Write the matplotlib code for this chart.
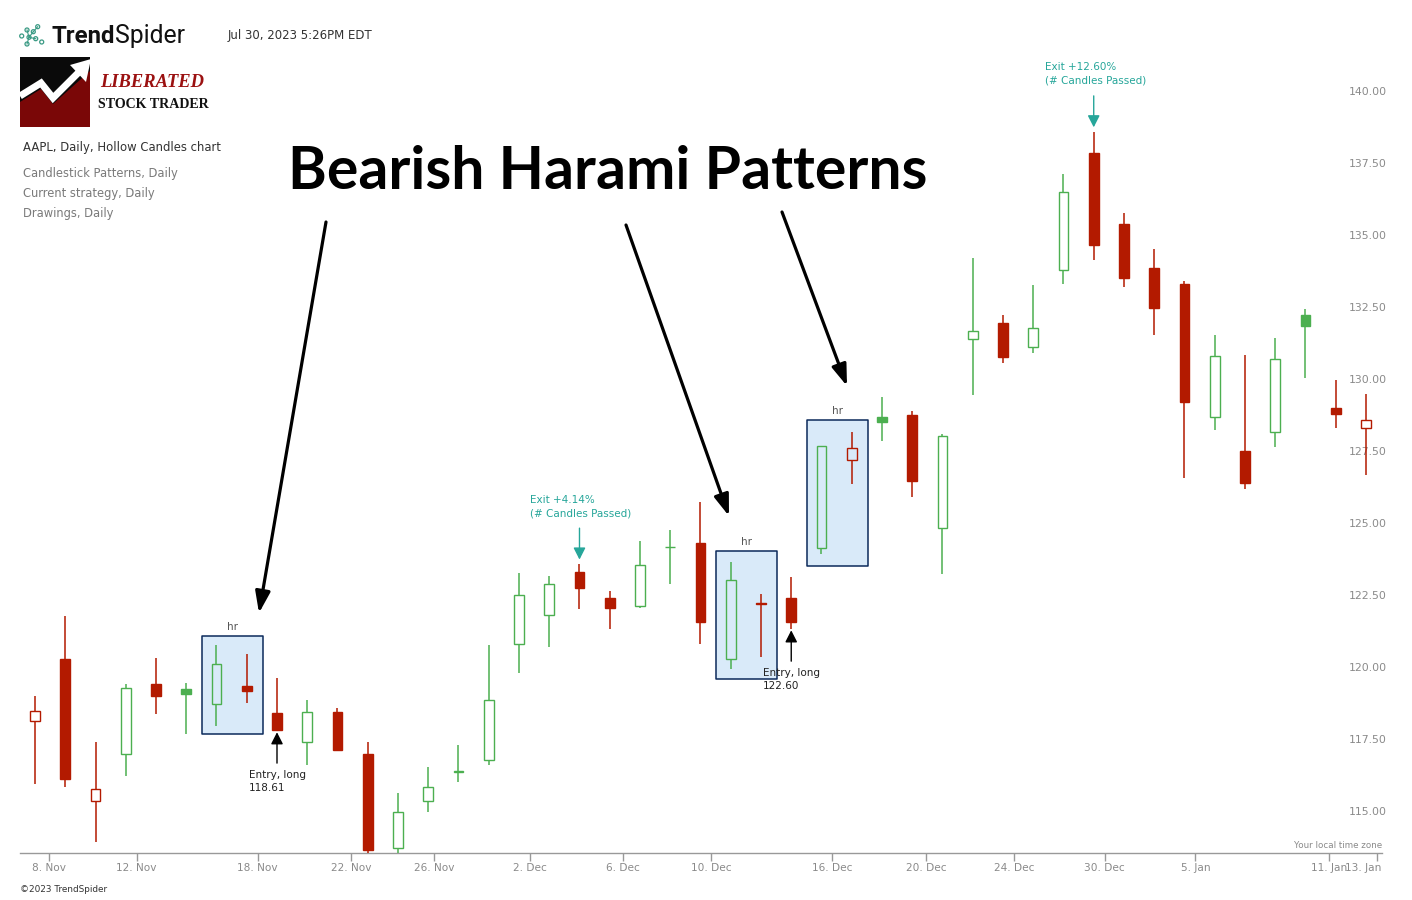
import numpy as np
import matplotlib
matplotlib.use("Agg")
import matplotlib.pyplot as plt
from matplotlib.patches import Rectangle, Polygon, Circle
from matplotlib.transforms import ScaledTranslation

W, H = 1412, 900

# AAPL daily candles, 6 Nov 2020 – 12 Jan 2021
opens = [118.32, 120.50, 115.55, 117.19, 119.62, 119.44, 118.92, 119.55, 118.61, 117.59,
         118.64, 117.18, 113.91, 115.55, 116.57, 116.97, 121.01, 122.02, 123.52, 122.60,
         122.31, 124.37, 124.53, 120.50, 122.43, 122.60, 124.34, 127.41, 128.90, 128.96,
         125.02, 131.61, 132.16, 131.32, 133.99, 138.05, 135.58, 134.08, 133.52, 128.89,
         127.72, 128.36, 132.43, 129.19, 128.50]
highs = [119.20, 121.99, 117.59, 119.63, 120.53, 119.67, 120.99, 120.67, 119.82, 119.06,
         118.77, 117.62, 115.85, 116.75, 117.49, 120.97, 123.47, 123.37, 123.78, 122.86,
         124.57, 124.98, 125.95, 123.87, 122.76, 123.35, 127.90, 128.37, 129.58, 129.10,
         128.31, 134.41, 132.43, 133.46, 137.34, 138.79, 135.99, 134.74, 133.61, 131.74,
         131.05, 131.63, 132.63, 130.17, 129.69]
lows = [116.13, 116.05, 114.13, 116.44, 118.57, 117.87, 118.15, 118.96, 118.00, 116.81,
        117.29, 113.75, 112.59, 115.17, 116.22, 116.81, 120.01, 120.89, 122.21, 121.52,
        122.25, 123.09, 121.00, 120.15, 120.55, 121.54, 124.13, 126.56, 128.04, 126.12,
        123.45, 129.65, 130.78, 131.10, 133.51, 134.34, 133.40, 131.72, 126.76, 128.43,
        126.38, 127.86, 130.23, 128.50, 126.86]
closes = [118.69, 116.32, 115.97, 119.49, 119.21, 119.26, 120.30, 119.39, 118.03, 118.64,
          117.34, 113.85, 115.17, 116.03, 116.59, 119.05, 122.72, 123.08, 122.94, 122.25,
          123.75, 124.38, 121.78, 123.24, 122.41, 121.78, 127.88, 127.81, 128.70, 126.66,
          128.23, 131.88, 130.96, 131.97, 136.69, 134.87, 133.72, 132.69, 129.41, 131.01,
          126.60, 130.92, 132.05, 128.98, 128.80]
prev_close = 118.99  # close of the session before the first candle

# date ticks (position on the session axis, label)
tick_pos = [0.46, 3.36, 7.36, 10.45, 13.2, 16.36, 19.45, 22.36, 26.36, 29.45,
            32.36, 35.36, 38.36, 42.78, 44.36]
tick_labels = ["8. Nov", "12. Nov", "18. Nov", "22. Nov", "26. Nov", "2. Dec", "6. Dec",
               "10. Dec", "16. Dec", "20. Dec", "24. Dec", "30. Dec", "5. Jan",
               "11. Jan", "13. Jan"]
price_ticks = [115.0, 117.5, 120.0, 122.5, 125.0, 127.5, 130.0, 132.5, 135.0, 137.5, 140.0]

# detected bearish harami pairs (first, second session)
harami_pairs = [(6, 7), (23, 24), (26, 27)]
# strategy trades: (entry session, exit session), filled at the open
trades = [(8, 18), (25, 35)]

RED = "#b31a00"
GREEN = "#4caf50"
TEAL = "#26a69a"
AXIS_GREY = "#999999"
LABEL_GREY = "#8a8a8a"

fig = plt.figure(figsize=(W / 100, H / 100), dpi=100, facecolor="white")
ax = fig.add_axes([20 / W, (H - 853) / H, (1382 - 20) / W, 853 / H])
ax.set_xlim(-0.496, 44.53)
ax.set_ylim(113.75, 143.37)
ax.set_facecolor("white")
for side in ("top", "left", "right"):
    ax.spines[side].set_visible(False)
ax.spines["bottom"].set_color(AXIS_GREY)
ax.spines["bottom"].set_linewidth(1.0)

# harami highlight boxes
for a, b in harami_pairs:
    hi = max(highs[a:b + 1])
    lo = min(lows[a:b + 1])
    pad = 0.1 * (hi - lo)
    x0, x1 = a - 0.48, b + 0.53
    ax.add_patch(Rectangle((x0, lo - pad), x1 - x0, (hi - lo) + 2 * pad,
                           facecolor="#d9eaf9", edgecolor="#0b2a5b", lw=1.1,
                           joinstyle="round", zorder=1))
    ax.annotate("hr", xy=((x0 + x1) / 2, hi + pad), xytext=(0, 9),
                textcoords="offset pixels", ha="center", va="center",
                fontsize=7.5, color="#555555", zorder=6)

# hollow candles: hollow when close > open, green when close >= previous close
body_w = 0.32
for i in range(len(opens)):
    o, h, l, c = opens[i], highs[i], lows[i], closes[i]
    ref = prev_close if i == 0 else closes[i - 1]
    col = GREEN if c >= ref else RED
    top, bot = max(o, c), min(o, c)
    hollow = c > o
    ax.vlines(i, top, h, color=col, lw=1.1, zorder=3)
    ax.vlines(i, l, bot, color=col, lw=1.1, zorder=3)
    ax.add_patch(Rectangle((i - body_w / 2, bot), body_w, top - bot,
                           facecolor="none" if hollow else col, edgecolor=col,
                           lw=1.0, zorder=4))

# entry / exit markers of the strategy
for e, x in trades:
    entry = opens[e]
    gain = (opens[x] / entry - 1) * 100
    ax.annotate("", xy=(e, lows[e]), xytext=(0, -32.5), textcoords="offset pixels",
                arrowprops=dict(arrowstyle="-|>,head_length=0.55,head_width=0.28",
                                mutation_scale=13, lw=1.0, color="black",
                                shrinkA=0, shrinkB=1.2), zorder=6)
    ax.annotate(f"Entry, long\n{entry:.2f}", xy=(e, lows[e]), xytext=(-28, -39),
                textcoords="offset pixels", ha="left", va="top", fontsize=7.5,
                color="#222222", linespacing=1.45, zorder=6)
    ax.annotate("", xy=(x, highs[x]), xytext=(0, 36), textcoords="offset pixels",
                arrowprops=dict(arrowstyle="-|>,head_length=0.55,head_width=0.28",
                                mutation_scale=13, lw=1.0, color=TEAL,
                                shrinkA=0, shrinkB=3.3), zorder=6)
    ax.annotate(f"Exit +{gain:.2f}%\n(# Candles Passed)", xy=(x, highs[x]),
                xytext=(-49, 46), textcoords="offset pixels", ha="left",
                va="bottom", fontsize=7.5, color=TEAL, linespacing=1.45, zorder=6)

# axes ticks and labels
ax.set_xticks(tick_pos, tick_labels)
ax.tick_params(axis="x", length=8 * 0.72, width=1.0, color=AXIS_GREY, pad=1.2,
               labelsize=7.6, labelcolor=LABEL_GREY)
last = ax.get_xticklabels()[-1]
last.set_horizontalalignment("right")
last.set_transform(last.get_transform() + ScaledTranslation(5 / 100, 0, fig.dpi_scale_trans))

ax.yaxis.tick_right()
ax.set_yticks(price_ticks, [f"{v:.2f}" for v in price_ticks])
ax.tick_params(axis="y", length=0, pad=-33 * 0.72, labelsize=7.8, labelcolor=LABEL_GREY)
for lbl in ax.get_yticklabels():
    lbl.set_verticalalignment("bottom")

# overlay in pixel coordinates for header, logo and drawings
ov = fig.add_axes([0, 0, 1, 1], zorder=10)
ov.set_xlim(0, W)
ov.set_ylim(H, 0)
ov.axis("off")
ov.patch.set_alpha(0)

renderer = fig.canvas.get_renderer()


def fitted(x, y, s, width, ha="left", va="center", **kw):
    t = ov.text(x, y, s, ha=ha, va=va, **kw)
    w = t.get_window_extent(renderer).width
    t.set_fontsize(t.get_fontsize() * width / w)
    return t


# TrendSpider wordmark and icon
icon_pts = [(21.7, 36), (27, 30), (37.7, 26.7), (33.3, 31.7), (29, 37.3),
            (35.7, 38.7), (41.7, 42), (27, 44)]
for a, b in [(1, 4), (4, 7), (4, 3), (3, 2), (4, 5)]:
    ov.plot([icon_pts[a][0], icon_pts[b][0]], [icon_pts[a][1], icon_pts[b][1]],
            color="#3a9a84", lw=0.8)
for px, py in icon_pts:
    ov.add_patch(Circle((px, py), 2.0, facecolor="white", edgecolor="#3a9a84", lw=0.9))
t1 = fitted(51, 43, "Trend", 64, va="baseline", family="Roboto", fontweight="bold",
            color="#111111", fontsize=16)
ext = t1.get_window_extent(renderer)
fitted(ext.x1 + 1, 43, "Spider", 70, va="baseline", family="Roboto", fontweight="normal",
       color="#111111", fontsize=16)
fitted(228, 35, "Jul 30, 2023 5:26PM EDT", 145, color="#333333", fontsize=8)

# Liberated Stock Trader logo
ov.add_patch(Rectangle((20, 57), 70, 70, facecolor="#0a0a0a", edgecolor="none"))
ov.add_patch(Polygon([(20, 127), (20, 102), (41, 89), (53, 104), (90, 71), (90, 127)],
                     closed=True, facecolor="#7a0707", edgecolor="none"))
ov.plot([20, 41, 53, 79], [96, 83, 98, 72], color="white", lw=5,
        solid_joinstyle="miter", solid_capstyle="butt")
ov.add_patch(Polygon([(91, 59), (70, 65), (86, 82)], closed=True,
                     facecolor="white", edgecolor="none"))
fitted(100, 87, "LIBERATED", 104, va="baseline", family="Liberation Serif",
       fontweight="bold", style="italic", color="#9b1111", fontsize=14)
fitted(98, 108, "STOCK TRADER", 111, va="baseline", family="Liberation Serif",
       fontweight="bold", color="#111111", fontsize=11)

# chart legend lines
fitted(23, 147, "AAPL, Daily, Hollow Candles chart", 197, color="#333333", fontsize=8)
fitted(23, 173, "Candlestick Patterns, Daily", 155, color="#7a7a7a", fontsize=8)
fitted(23, 193, "Current strategy, Daily", 132, color="#7a7a7a", fontsize=8)
fitted(23, 213, "Drawings, Daily", 91, color="#7a7a7a", fontsize=8)

# footer
fitted(20, 890, "\u00a92023 TrendSpider", 87, color="#333333", fontsize=6.5)
fitted(1382, 846, "Your local time zone", 89, ha="right", color="#8a8a8a", fontsize=6.5)

# headline and pointer arrows
fitted(288, 189, "Bearish Harami Patterns", 638, va="baseline", family="Lato",
       fontweight="bold", color="black", fontsize=44)
pointer_arrows = [((326, 222), (259, 613)), ((626, 225), (729, 516)),
                  ((782, 212), (847, 386))]
for (x0, y0), (x1, y1) in pointer_arrows:
    ov.annotate("", xy=(x1, y1), xytext=(x0, y0),
                arrowprops=dict(arrowstyle="-|>,head_length=0.46,head_width=0.16",
                                mutation_scale=28, lw=2.3, color="black",
                                shrinkA=0, shrinkB=0))

fig.savefig("out.png", dpi=100, facecolor="white")
